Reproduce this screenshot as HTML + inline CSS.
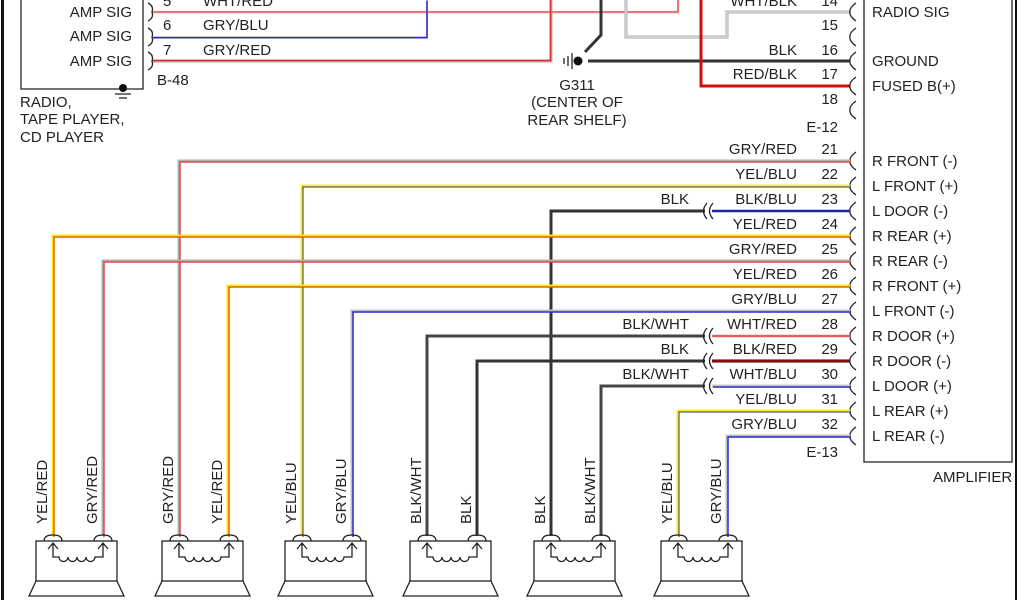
<!DOCTYPE html>
<html><head><meta charset="utf-8"><style>
html,body{margin:0;padding:0;background:#fff;width:1024px;height:600px;overflow:hidden}
svg{display:block}
text{font-family:"Liberation Sans",Arial,sans-serif;font-size:15px;fill:#222}
.c{fill:none;stroke:#222;stroke-width:1.3}
</style></head><body>
<svg width="1024" height="600" viewBox="0 0 1024 600" xmlns="http://www.w3.org/2000/svg">
<defs>
<path id="w5" d="M153,12 H678 V0"/>
<path id="w6" d="M153,37 H427 V0"/>
<path id="w7" d="M153,61 H551 V0"/>
<path id="w14" d="M850,12 H727 V37 H626 V0"/>
<path id="w21" d="M850,161 H179 V536"/>
<path id="w22" d="M850,186 H302 V536"/>
<path id="w23" d="M850,211 H712"/>
<path id="w24" d="M850,236 H53 V536"/>
<path id="w25" d="M850,261 H103 V536"/>
<path id="w26" d="M850,286 H228 V536"/>
<path id="w27" d="M850,311 H352 V536"/>
<path id="w28" d="M850,336 H712"/>
<path id="w29" d="M850,361 H712"/>
<path id="w30" d="M850,386 H712"/>
<path id="w31" d="M850,411 H678 V536"/>
<path id="w32" d="M850,436 H727 V536"/>
<g id="spk">
<path class="c" d="M-9,541 Q-9,535 0,535 Q9,535 9,541 M41,541 Q41,535 50,535 Q59,535 59,541"/>
<rect class="c" x="-17" y="541" width="81" height="40"/>
<path class="c" d="M-17,581 L-24,596 H71 L64,581"/>
<path class="c" d="M-5,549 L0,543 L5,549 M0,543 V557 H6 a4.5,4.5 0 0 0 9,0 a4.5,4.5 0 0 0 9,0 a4.5,4.5 0 0 0 9,0 a4.5,4.5 0 0 0 9,0 H50 V543 M45,549 L50,543 L55,549"/>
</g>
</defs>
<rect x="1" y="0" width="3" height="600" fill="#111"/>
<rect x="1015" y="0" width="2" height="600" fill="#111"/>
<path class="c" d="M21,0 V89 H143 V0"/>
<circle cx="123" cy="88" r="4" fill="#111"/>
<path class="c" d="M115,94 H131 M119,98 H127"/>
<text x="132" y="17" text-anchor="end">AMP SIG</text>
<text x="132" y="41" text-anchor="end">AMP SIG</text>
<text x="132" y="66" text-anchor="end">AMP SIG</text>
<path class="c" d="M148,3 Q154,6 152,12 Q154,18 148,21 M148,28 Q154,31 152,37 Q154,43 148,46 M148,52 Q154,55 152,61 Q154,67 148,70"/>
<text x="163" y="6">5</text><text x="203" y="6">WHT/RED</text>
<text x="163" y="30">6</text><text x="203" y="30">GRY/BLU</text>
<text x="163" y="55">7</text><text x="203" y="55">GRY/RED</text>
<text x="157" y="85">B-48</text>
<text x="20" y="107">RADIO,</text>
<text x="20" y="124">TAPE PLAYER,</text>
<text x="20" y="142">CD PLAYER</text>
<use href="#w5" fill="none" stroke="#e04040" stroke-width="1.5"/>
<use href="#w5" fill="none" stroke="#f0c0c0" stroke-width="1" transform="translate(1,1)"/>
<use href="#w6" fill="none" stroke="#c8c8c8" stroke-width="2"/>
<use href="#w6" fill="none" stroke="#2a2ad0" stroke-width="1.5" transform="translate(0,0.8)"/>
<use href="#w7" fill="none" stroke="#c0a0a0" stroke-width="3"/>
<use href="#w7" fill="none" stroke="#d83030" stroke-width="1.5" transform="translate(-0.5,-0.5)"/>
<use href="#w14" fill="none" stroke="#aaa" stroke-width="3"/>
<use href="#w14" fill="none" stroke="#eee" stroke-width="1"/>
<path d="M601,0 V35 L585,52" fill="none" stroke="#333" stroke-width="3"/>
<path d="M588,61 H850" fill="none" stroke="#333" stroke-width="3"/>
<path d="M701,0 V86 H850" fill="none" stroke="#cc1010" stroke-width="3"/>
<circle cx="578" cy="61" r="4.5" fill="#111"/>
<path class="c" d="M572,53 V69 M568,56 V66 M564,58 V64"/>
<text x="577" y="90" text-anchor="middle">G311</text>
<text x="577" y="107" text-anchor="middle">(CENTER OF</text>
<text x="577" y="125" text-anchor="middle">REAR SHELF)</text>
<path class="c" d="M864,0 V462 H1012 V0"/>
<text x="933" y="482">AMPLIFIER</text>
<g>
<text x="872" y="17">RADIO SIG</text>
<text x="872" y="66">GROUND</text>
<text x="872" y="91">FUSED B(+)</text>
<text x="872" y="166">R FRONT (-)</text>
<text x="872" y="191">L FRONT (+)</text>
<text x="872" y="216">L DOOR (-)</text>
<text x="872" y="241">R REAR (+)</text>
<text x="872" y="266">R REAR (-)</text>
<text x="872" y="291">R FRONT (+)</text>
<text x="872" y="316">L FRONT (-)</text>
<text x="872" y="341">R DOOR (+)</text>
<text x="872" y="366">R DOOR (-)</text>
<text x="872" y="391">L DOOR (+)</text>
<text x="872" y="416">L REAR (+)</text>
<text x="872" y="441">L REAR (-)</text>
</g>
<path class="c" d="M856,3 Q849,8 850,12 Q849,16 856,21 M856,28 Q849,33 850,37 Q849,41 856,46 M856,52 Q849,57 850,61 Q849,65 856,70 M856,77 Q849,82 850,86 Q849,90 856,95 M856,101 Q849,106 850,110 Q849,114 856,119
M856,152 Q849,157 850,161 Q849,165 856,170 M856,177 Q849,182 850,186 Q849,190 856,195 M856,202 Q849,207 850,211 Q849,215 856,220 M856,227 Q849,232 850,236 Q849,240 856,245 M856,252 Q849,257 850,261 Q849,265 856,270 M856,277 Q849,282 850,286 Q849,290 856,295 M856,302 Q849,307 850,311 Q849,315 856,320 M856,327 Q849,332 850,336 Q849,340 856,345 M856,352 Q849,357 850,361 Q849,365 856,370 M856,377 Q849,382 850,386 Q849,390 856,395 M856,402 Q849,407 850,411 Q849,415 856,420 M856,427 Q849,432 850,436 Q849,440 856,445"/>
<g text-anchor="end">
<text x="797" y="6">WHT/BLK</text><text x="838" y="6">14</text>
<text x="838" y="30">15</text>
<text x="797" y="55">BLK</text><text x="838" y="55">16</text>
<text x="797" y="79">RED/BLK</text><text x="838" y="79">17</text>
<text x="838" y="104">18</text>
<text x="838" y="132">E-12</text>
<text x="797" y="154">GRY/RED</text><text x="838" y="154">21</text>
<text x="797" y="179">YEL/BLU</text><text x="838" y="179">22</text>
<text x="797" y="204">BLK/BLU</text><text x="838" y="204">23</text><text x="689" y="204">BLK</text>
<text x="797" y="229">YEL/RED</text><text x="838" y="229">24</text>
<text x="797" y="254">GRY/RED</text><text x="838" y="254">25</text>
<text x="797" y="279">YEL/RED</text><text x="838" y="279">26</text>
<text x="797" y="304">GRY/BLU</text><text x="838" y="304">27</text>
<text x="797" y="329">WHT/RED</text><text x="838" y="329">28</text><text x="689" y="329">BLK/WHT</text>
<text x="797" y="354">BLK/RED</text><text x="838" y="354">29</text><text x="689" y="354">BLK</text>
<text x="797" y="379">WHT/BLU</text><text x="838" y="379">30</text><text x="689" y="379">BLK/WHT</text>
<text x="797" y="404">YEL/BLU</text><text x="838" y="404">31</text>
<text x="797" y="429">GRY/BLU</text><text x="838" y="429">32</text>
<text x="838" y="457">E-13</text>
</g>
<use href="#w21" fill="none" stroke="#b0b0b0" stroke-width="3"/>
<use href="#w21" fill="none" stroke="#e04848" stroke-width="1.5" transform="translate(1,1)"/>
<use href="#w22" fill="none" stroke="#f8f020" stroke-width="3"/>
<use href="#w22" fill="none" stroke="#303070" stroke-width="1" transform="translate(1,1)"/>
<use href="#w23" fill="none" stroke="#2020a0" stroke-width="2.5"/>
<path d="M705,211 H551 V536" fill="none" stroke="#333" stroke-width="3"/>
<use href="#w24" fill="none" stroke="#ffe800" stroke-width="3"/>
<use href="#w24" fill="none" stroke="#e06000" stroke-width="1.5" transform="translate(1,1)"/>
<use href="#w25" fill="none" stroke="#b0b0b0" stroke-width="3"/>
<use href="#w25" fill="none" stroke="#e04848" stroke-width="1.5" transform="translate(1,1)"/>
<use href="#w26" fill="none" stroke="#ffe800" stroke-width="3"/>
<use href="#w26" fill="none" stroke="#e06000" stroke-width="1.5" transform="translate(1,1)"/>
<use href="#w27" fill="none" stroke="#c0c0c0" stroke-width="3"/>
<use href="#w27" fill="none" stroke="#2a2ad0" stroke-width="1.5" transform="translate(1,1)"/>
<use href="#w28" fill="none" stroke="#f0b8b8" stroke-width="3"/>
<use href="#w28" fill="none" stroke="#e04040" stroke-width="1.5"/>
<path d="M705,336 H427 V536" fill="none" stroke="#444" stroke-width="3"/>
<use href="#w29" fill="none" stroke="#300" stroke-width="3"/>
<use href="#w29" fill="none" stroke="#c01010" stroke-width="1.2"/>
<path d="M705,361 H477 V536" fill="none" stroke="#333" stroke-width="3"/>
<use href="#w30" fill="none" stroke="#c8c8c8" stroke-width="3"/>
<use href="#w30" fill="none" stroke="#2a2ad0" stroke-width="1.5" transform="translate(1,1)"/>
<path d="M705,386 H601 V536" fill="none" stroke="#444" stroke-width="3"/>
<use href="#w31" fill="none" stroke="#f8f020" stroke-width="3"/>
<use href="#w31" fill="none" stroke="#303070" stroke-width="1" transform="translate(1,1)"/>
<use href="#w32" fill="none" stroke="#c0c0c0" stroke-width="3"/>
<use href="#w32" fill="none" stroke="#2a2ad0" stroke-width="1.5" transform="translate(1,1)"/>
<path class="c" d="M707,203 Q700,211 707,219 M713,203 Q706,211 713,219 M707,328 Q700,336 707,344 M713,328 Q706,336 713,344 M707,353 Q700,361 707,369 M713,353 Q706,361 713,369 M707,378 Q700,386 707,394 M713,378 Q706,386 713,394"/>
<use href="#spk" transform="translate(53,0)"/>
<use href="#spk" transform="translate(179,0)"/>
<use href="#spk" transform="translate(302,0)"/>
<use href="#spk" transform="translate(427,0)"/>
<use href="#spk" transform="translate(551,0)"/>
<use href="#spk" transform="translate(678,0)"/>
<g>
<text transform="translate(47,524) rotate(-90)">YEL/RED</text>
<text transform="translate(97,524) rotate(-90)">GRY/RED</text>
<text transform="translate(173,524) rotate(-90)">GRY/RED</text>
<text transform="translate(222,524) rotate(-90)">YEL/RED</text>
<text transform="translate(296,524) rotate(-90)">YEL/BLU</text>
<text transform="translate(346,524) rotate(-90)">GRY/BLU</text>
<text transform="translate(421,524) rotate(-90)">BLK/WHT</text>
<text transform="translate(471,524) rotate(-90)">BLK</text>
<text transform="translate(545,524) rotate(-90)">BLK</text>
<text transform="translate(595,524) rotate(-90)">BLK/WHT</text>
<text transform="translate(672,524) rotate(-90)">YEL/BLU</text>
<text transform="translate(721,524) rotate(-90)">GRY/BLU</text>
</g>
</svg>
</body></html>
